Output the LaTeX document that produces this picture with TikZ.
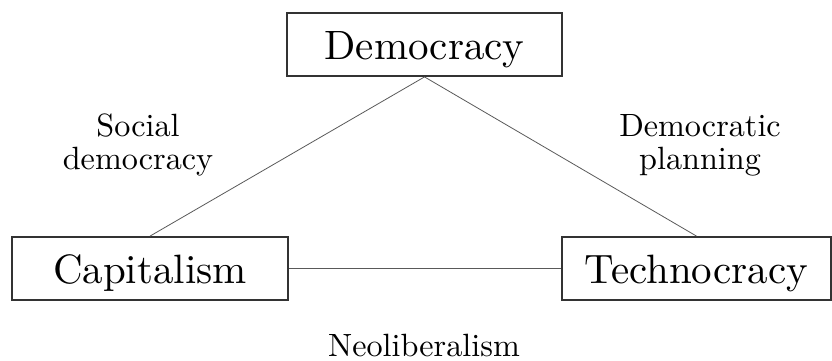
\documentclass[tikz,border=0pt]{standalone}
\begin{document}
\begin{tikzpicture}[x=1pt,y=-1pt,
  box/.style={draw=black!80, line width=1.8pt, inner sep=0pt, minimum height=63pt,
    text height=29pt, text depth=0pt, font=\fontsize{10}{12}\selectfont},
  conn/.style={draw=black!65, line width=0.8pt},
  lab/.style={inner sep=0pt, font=\fontsize{10}{10.3}\selectfont}]
\useasboundingbox (0,0) rectangle (832,360);
\node[box, minimum width=275pt] (dem) at (424.5,44.5) {\scalebox{4.1}{Democracy}};
\node[box, minimum width=276pt] (cap) at (150,268.5) {\scalebox{4.1}{Capitalism}};
\node[box, minimum width=269pt] (tec) at (696.5,268.5) {\scalebox{4.1}{Technocracy}};
\draw[conn] (dem.south) -- (cap.north);
\draw[conn] (dem.south) -- (tec.north);
\draw[conn] (cap.east) -- (tec.west);
\node[lab] (sd) at (138,146) {\scalebox{3.22}{\begin{tabular}{@{}c@{}}Social\\democracy\end{tabular}}};
\node[lab] (dp) at (700,146) {\scalebox{3.22}{\begin{tabular}{@{}c@{}}Democratic\\planning\end{tabular}}};
\node[lab, anchor=base] (neo) at (424,356) {\scalebox{3.22}{Neoliberalism}};
\end{tikzpicture}
\end{document}
